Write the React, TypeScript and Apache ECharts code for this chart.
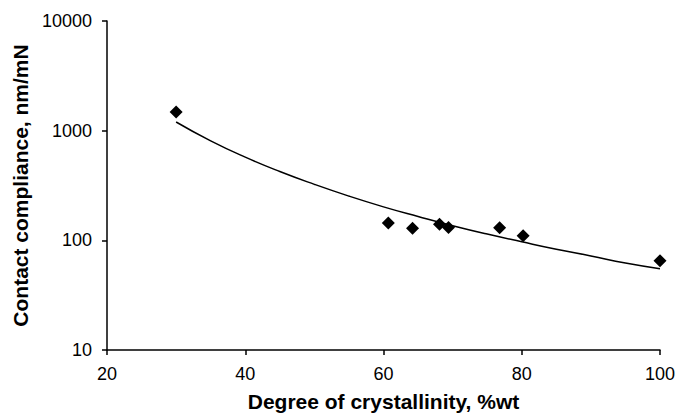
import React, { useEffect, useRef } from "react";
import * as echarts from "echarts";

const crystallinity = [30, 60.7, 64.2, 68.1, 69.4, 76.8, 80.2, 100];
const compliance = [1480, 144, 129, 140, 131, 130, 110, 65];

const trendX = [30, 35, 40, 45, 50, 55, 60, 65, 70, 75, 80, 85, 90, 95, 100];
const trendY = [1200, 807, 573, 424, 324, 253, 202, 165, 136, 114, 97, 83, 72, 62, 55];

const xTicks = [20, 40, 60, 80, 100];
const yTicks = [10, 100, 1000, 10000];

export default function App() {
  const ref = useRef<HTMLDivElement>(null);
  useEffect(() => {
    if (!ref.current) return;
    const chart = echarts.init(ref.current, undefined, { renderer: "svg" });
    const font = "Liberation Sans, Arial, sans-serif";
    chart.setOption({
      animation: false,
      backgroundColor: "#ffffff",
      grid: { left: 107, right: 18, top: 21, bottom: 64, containLabel: false, outerBoundsMode: "none" },
      xAxis: {
        type: "value",
        min: xTicks[0],
        max: xTicks[xTicks.length - 1],
        interval: 20,
        name: "Degree of crystallinity, %wt",
        nameLocation: "middle",
        nameGap: 41,
        nameTextStyle: { fontFamily: font, fontSize: 21, fontWeight: "bold", color: "#000" },
        axisLine: { lineStyle: { color: "#000", width: 1.5 } },
        axisTick: { length: 5, lineStyle: { color: "#000", width: 1.5 } },
        axisLabel: { fontFamily: font, fontSize: 18, color: "#000", margin: 15, formatter: (v: number) => String(v) },
        splitLine: { show: false },
      },
      yAxis: {
        type: "log",
        logBase: 10,
        min: yTicks[0],
        max: yTicks[yTicks.length - 1],
        name: "Contact compliance, nm/mN",
        nameLocation: "middle",
        nameGap: 73,
        nameTextStyle: { fontFamily: font, fontSize: 21, fontWeight: "bold", color: "#000" },
        axisLine: { show: true, lineStyle: { color: "#000", width: 1.5 } },
        axisTick: { show: true, length: 5, lineStyle: { color: "#000", width: 1.5 } },
        axisLabel: { fontFamily: font, fontSize: 18, color: "#000", margin: 15, formatter: (v: number) => String(Math.round(v)) },
        splitLine: { show: false },
        minorTick: { show: false },
      },
      series: [
        {
          type: "line",
          data: trendX.map((x, i) => [x, trendY[i]]),
          smooth: true,
          showSymbol: false,
          symbol: "none",
          lineStyle: { color: "#000", width: 1.5 },
          z: 1,
        },
        {
          type: "scatter",
          data: crystallinity.map((x, i) => [x, compliance[i]]),
          symbol: "diamond",
          symbolSize: 13,
          clip: false,
          itemStyle: { color: "#000", opacity: 1 },
          z: 2,
        },
      ],
    });
    return () => chart.dispose();
  }, []);
  return <div ref={ref} style={{ width: 678, height: 414, position: "absolute", left: 0, top: 0 }} />;
}
